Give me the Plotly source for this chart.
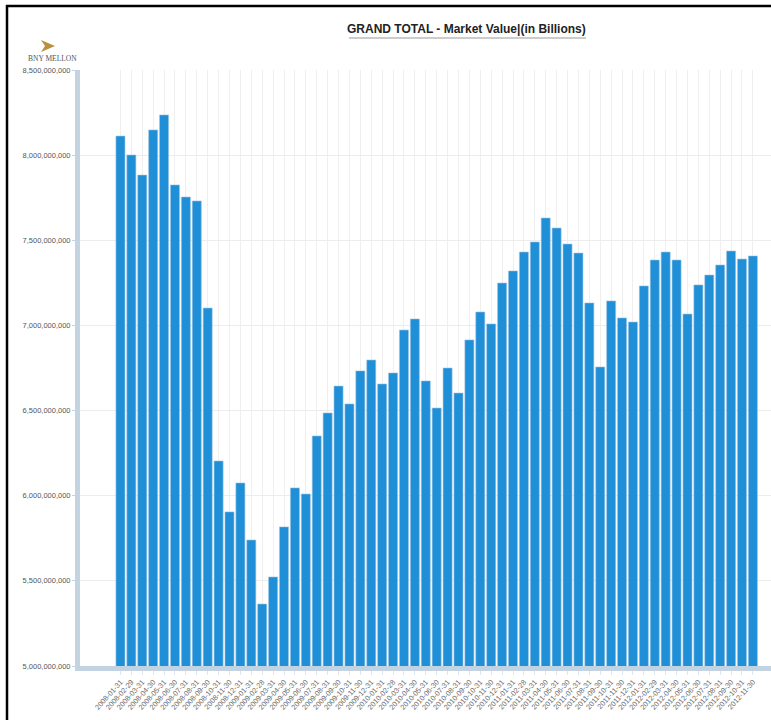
import plotly.graph_objects as go

# Month-end reporting dates
dates = [
    "2008-01-31", "2008-02-29", "2008-03-31", "2008-04-30", "2008-05-31", "2008-06-30",
    "2008-07-31", "2008-08-31", "2008-09-30", "2008-10-31", "2008-11-30", "2008-12-31",
    "2009-01-31", "2009-02-28", "2009-03-31", "2009-04-30", "2009-05-31", "2009-06-30",
    "2009-07-31", "2009-08-31", "2009-09-30", "2009-10-31", "2009-11-30", "2009-12-31",
    "2010-01-31", "2010-02-28", "2010-03-31", "2010-04-30", "2010-05-31", "2010-06-30",
    "2010-07-31", "2010-08-31", "2010-09-30", "2010-10-31", "2010-11-30", "2010-12-31",
    "2011-01-31", "2011-02-28", "2011-03-31", "2011-04-30", "2011-05-31", "2011-06-30",
    "2011-07-31", "2011-08-31", "2011-09-30", "2011-10-31", "2011-11-30", "2011-12-31",
    "2012-01-31", "2012-02-29", "2012-03-31", "2012-04-30", "2012-05-31", "2012-06-30",
    "2012-07-31", "2012-08-31", "2012-09-30", "2012-10-31", "2012-11-30",
]

# Grand total market value
market_value = [
    8112000000, 8001000000, 7883000000, 8148000000, 8236000000, 7825000000,
    7754000000, 7731000000, 7102000000, 6204000000, 5905000000, 6075000000,
    5740000000, 5364000000, 5523000000, 5817000000, 6046000000, 6010000000,
    6351000000, 6486000000, 6644000000, 6539000000, 6733000000, 6797000000,
    6656000000, 6721000000, 6973000000, 7038000000, 6674000000, 6515000000,
    6750000000, 6603000000, 6915000000, 7079000000, 7009000000, 7249000000,
    7320000000, 7431000000, 7490000000, 7631000000, 7572000000, 7478000000,
    7425000000, 7132000000, 6756000000, 7144000000, 7044000000, 7020000000,
    7232000000, 7384000000, 7431000000, 7384000000, 7067000000, 7238000000,
    7296000000, 7355000000, 7437000000, 7390000000, 7408000000,
]

y_ticks = [5000000000, 5500000000, 6000000000, 6500000000,
           7000000000, 7500000000, 8000000000, 8500000000]

W, H = 771, 720
L, R, T, B = 80, 0, 70, 54
PW, PH = W - L - R, H - T - B


def xp(px):
    return (px - L) / PW


def yp(py):
    return (H - B - py) / PH


fig = go.Figure()
fig.add_trace(go.Bar(
    x=dates,
    y=market_value,
    marker=dict(color="#1f8fd8", line=dict(color="#9fc4e0", width=0.6)),
    hoverinfo="x+y",
))

axis_band = "#c3d3e2"

fig.update_layout(
    width=W, height=H,
    margin=dict(l=L, r=R, t=T, b=B),
    paper_bgcolor="white",
    plot_bgcolor="white",
    showlegend=False,
    bargap=0.17,
    font=dict(family="Liberation Sans, Arial, sans-serif", color="#555555"),
    xaxis=dict(
        type="category",
        range=[-3.71, 59.66],
        tickmode="array",
        tickvals=dates,
        ticktext=dates,
        tickangle=-48,
        tickfont=dict(size=7.3, color="#6a6a6a"),
        showgrid=True,
        gridcolor="#efefef",
        gridwidth=1,
        showline=True,
        linecolor=axis_band,
        linewidth=5,
        ticks="outside",
        ticklen=4,
        tickcolor="#dde5ee",
        zeroline=False,
    ),
    yaxis=dict(
        range=[5000000000, 8500000000],
        tickmode="array",
        tickvals=y_ticks,
        ticktext=[f"{v:,}" for v in y_ticks],
        tickfont=dict(size=7.5, color="#555555"),
        showgrid=True,
        gridcolor="#ececec",
        gridwidth=1,
        showline=True,
        linecolor=axis_band,
        linewidth=5,
        ticks="outside",
        ticklen=3,
        tickcolor=axis_band,
        zeroline=False,
    ),
)

# Title with its underline
fig.add_annotation(
    text="<b>GRAND TOTAL - Market Value|(in Billions)</b>",
    xref="paper", yref="paper",
    x=xp(467), y=yp(29),
    xanchor="center", yanchor="middle",
    showarrow=False,
    font=dict(size=12, color="#222222", family="Liberation Sans, Arial, sans-serif"),
)
fig.add_shape(
    type="line", xref="paper", yref="paper",
    x0=xp(349), x1=xp(586), y0=yp(38), y1=yp(38),
    line=dict(color="#9a9a9a", width=1.2),
)

# Brand mark: gold arrow and wordmark
ax0, ay0 = 41, 40
arrow_path = (
    f"M {xp(ax0)},{yp(ay0)} L {xp(ax0 + 14)},{yp(ay0 + 6)} "
    f"L {xp(ax0)},{yp(ay0 + 12)} L {xp(ax0 + 4)},{yp(ay0 + 6)} Z"
)
fig.add_shape(
    type="path", xref="paper", yref="paper", path=arrow_path,
    fillcolor="#b9903e", line=dict(width=0),
)
fig.add_annotation(
    text="BNY MELLON",
    xref="paper", yref="paper",
    x=xp(52), y=yp(59),
    xanchor="center", yanchor="middle",
    showarrow=False,
    font=dict(size=7.5, color="#555555", family="Liberation Serif, DejaVu Serif, serif"),
)

# Frame edges
fig.add_shape(
    type="line", xref="paper", yref="paper",
    x0=xp(7), x1=xp(7), y0=yp(5), y1=yp(721),
    line=dict(color="black", width=2.5),
)
fig.add_shape(
    type="line", xref="paper", yref="paper",
    x0=xp(6), x1=xp(772), y0=yp(6), y1=yp(6),
    line=dict(color="black", width=2.5),
)

fig.write_html("out.html")
